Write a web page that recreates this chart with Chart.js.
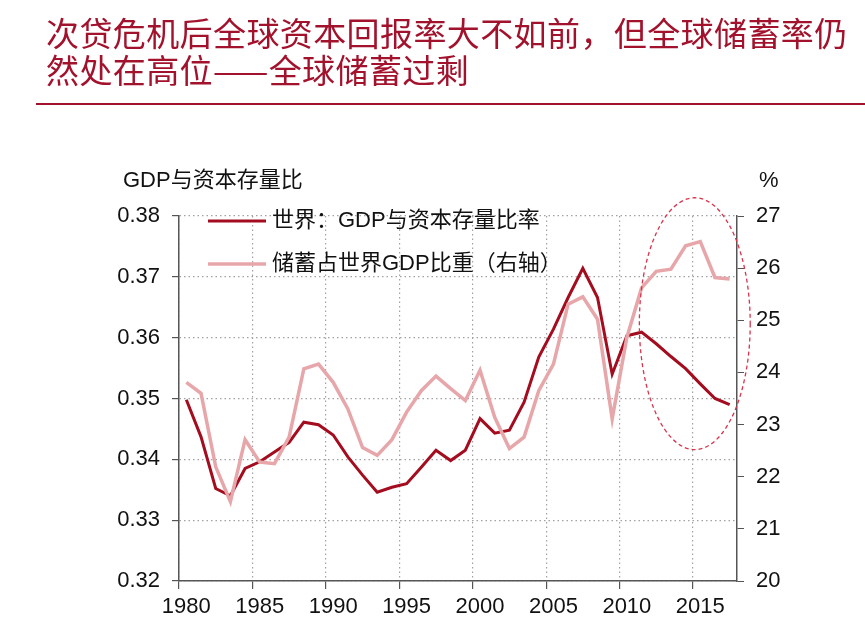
<!DOCTYPE html>
<html>
<head>
<meta charset="utf-8">
<script src="https://cdn.jsdelivr.net/npm/chart.js@4"></script>
<style>
  html, body { margin: 0; padding: 0; background: #fff; }
  #wrap { position: relative; width: 865px; height: 643px; overflow: hidden; }
  #chart { position: absolute; left: 0; top: 0; }
  .title {
    position: absolute; left: 46px; top: 14px;
    font-family: "Noto Sans CJK SC", sans-serif;
    font-size: 33px; line-height: 37px; letter-spacing: 0.4px; color: #a3122d; white-space: nowrap;
  }
  .rule { position: absolute; left: 36px; top: 103px; width: 829px; height: 2px; background: #a3122d; }
</style>
</head>
<body>
<div id="wrap">
  <canvas id="chart" width="865" height="643"></canvas>
  <div class="title">次贷危机后全球资本回报率大不如前，但全球储蓄率仍<br>然处在高位——全球储蓄过剩</div>
  <div class="rule"></div>
</div>
<script>
// categories
const years = [1980, 1981, 1982, 1983, 1984, 1985, 1986, 1987, 1988, 1989,
  1990, 1991, 1992, 1993, 1994, 1995, 1996, 1997, 1998, 1999,
  2000, 2001, 2002, 2003, 2004, 2005, 2006, 2007, 2008, 2009,
  2010, 2011, 2012, 2013, 2014, 2015, 2016, 2017];

// 世界：GDP与资本存量比率 (left axis)
const gdpCapitalRatio = [0.3498, 0.3437, 0.3352, 0.3340, 0.3385, 0.3396, 0.3412, 0.3428, 0.3461, 0.3457,
  0.3440, 0.3404, 0.3374, 0.3346, 0.3354, 0.3360, 0.3387, 0.3415, 0.3398, 0.3415,
  0.3467, 0.3443, 0.3448, 0.3494, 0.3568, 0.3614, 0.3666, 0.3714, 0.3666, 0.3540,
  0.3603, 0.3609, 0.3590, 0.3569, 0.3549, 0.3524, 0.3500, 0.3490];

// 储蓄占世界GDP比重, % (right axis)
const savingsShare = [23.81, 23.60, 22.19, 21.52, 22.71, 22.28, 22.25, 22.76, 24.07, 24.16,
  23.81, 23.30, 22.56, 22.41, 22.71, 23.24, 23.65, 23.93, 23.69, 23.46,
  24.04, 23.14, 22.54, 22.76, 23.65, 24.16, 25.31, 25.45, 25.02, 23.11,
  24.67, 25.62, 25.94, 25.98, 26.43, 26.51, 25.82, 25.79];

const leftTicks = [0.32, 0.33, 0.34, 0.35, 0.36, 0.37, 0.38];
const rightTicks = [20, 21, 22, 23, 24, 25, 26, 27];

// dashed ellipse around the post-2011 period, in data units (category index / left axis)
const highlightX = [30.85, 38.4];
const highlightY = [0.3416, 0.3830];

const DARK = '#a30d1f';
const PINK = '#e7a7aa';
const AXIS = '#555';
const GRID = '#a2a2a2';
const FONT = '"Liberation Sans", Arial, "Noto Sans CJK SC", sans-serif';

const overlay = {
  id: 'overlay',
  afterDraw(chart) {
    const ctx = chart.ctx;
    const { x, y } = chart.scales;
    ctx.save();

    // axis titles
    ctx.fillStyle = '#111';
    ctx.font = `22px ${FONT}`;
    ctx.textBaseline = 'middle';
    ctx.textAlign = 'left';
    ctx.fillText('GDP与资本存量比', 123, 181);
    ctx.fillText('%', 759, 181);

    // legend
    const rows = [221, 264];
    chart.data.datasets.forEach((ds, i) => {
      ctx.strokeStyle = ds.borderColor;
      ctx.lineWidth = ds.borderWidth;
      ctx.beginPath();
      ctx.moveTo(208, rows[i]);
      ctx.lineTo(266, rows[i]);
      ctx.stroke();
      ctx.fillStyle = '#111';
      ctx.fillText(ds.label, 272, rows[i]);
    });

    // highlight ellipse
    const x0 = x.getPixelForValue(highlightX[0]);
    const x1 = x.getPixelForValue(highlightX[1]);
    const y0 = y.getPixelForValue(highlightY[1]);
    const y1 = y.getPixelForValue(highlightY[0]);
    ctx.strokeStyle = '#d8344c';
    ctx.lineWidth = 1.3;
    ctx.setLineDash([4, 3]);
    ctx.beginPath();
    ctx.ellipse((x0 + x1) / 2, (y0 + y1) / 2, (x1 - x0) / 2, (y1 - y0) / 2, 0, 0, Math.PI * 2);
    ctx.stroke();
    ctx.restore();
  },
};

new Chart(document.getElementById('chart'), {
  type: 'line',
  data: {
    labels: years.map(String),
    datasets: [
      {
        label: '世界：GDP与资本存量比率',
        data: gdpCapitalRatio,
        yAxisID: 'y',
        borderColor: DARK,
        borderWidth: 3,
        pointRadius: 0,
        tension: 0,
        order: 1,
      },
      {
        label: '储蓄占世界GDP比重（右轴）',
        data: savingsShare,
        yAxisID: 'y1',
        borderColor: PINK,
        borderWidth: 3.5,
        pointRadius: 0,
        tension: 0,
        order: 0,
      },
    ],
  },
  options: {
    responsive: false,
    devicePixelRatio: 1,
    animation: false,
    layout: { padding: { top: 216, left: 0, right: 0, bottom: 0 } },
    plugins: { legend: { display: false }, tooltip: { enabled: false }, title: { display: false } },
    scales: {
      x: {
        type: 'category',
        offset: true,
        grid: {
          offset: true,
          color: (c) => (c.index % 5 === 0 ? GRID : 'transparent'),
          tickColor: (c) => (c.index % 5 === 0 ? AXIS : 'transparent'),
          tickLength: 8,
          lineWidth: 1.2,
        },
        border: { color: AXIS, width: 1.5, dash: [1.5, 3] },
        ticks: {
          autoSkip: false,
          maxRotation: 0,
          padding: 5,
          color: '#111',
          font: { family: FONT, size: 22 },
          callback: (v, i) => (years[i] % 5 === 0 ? String(years[i]) : ''),
        },
        afterFit: (s) => { s.height = 62; },
      },
      y: {
        position: 'left',
        min: leftTicks[0],
        max: leftTicks[leftTicks.length - 1],
        afterBuildTicks: (s) => { s.ticks = leftTicks.map(v => ({ value: v })); },
        grid: { color: GRID, tickColor: AXIS, tickLength: 7, lineWidth: 1.2 },
        border: { color: AXIS, width: 1.5, dash: [1.5, 3] },
        ticks: {
          padding: 12,
          color: '#111',
          font: { family: FONT, size: 22 },
          callback: (v) => v.toFixed(2),
        },
        afterFit: (s) => { s.width = 179; },
      },
      y1: {
        position: 'right',
        min: rightTicks[0],
        max: rightTicks[rightTicks.length - 1],
        afterBuildTicks: (s) => { s.ticks = rightTicks.map(v => ({ value: v })); },
        grid: { drawOnChartArea: false, tickColor: AXIS, tickLength: 7 },
        border: { color: AXIS, width: 1.5 },
        ticks: {
          padding: 12,
          color: '#111',
          font: { family: FONT, size: 22 },
          callback: (v) => String(v),
        },
        afterFit: (s) => { s.width = 128; },
      },
    },
  },
  plugins: [overlay],
});
</script>
</body>
</html>
